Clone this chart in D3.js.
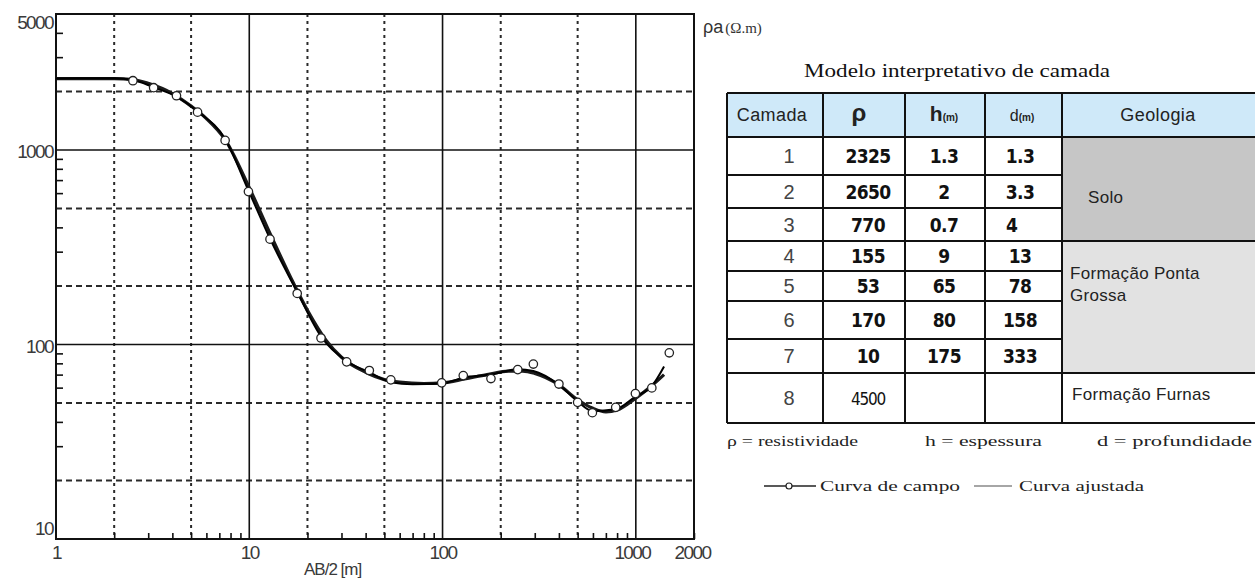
<!DOCTYPE html>
<html lang="pt">
  <head>
    <meta charset="utf-8" />
    <title>Curva de resistividade aparente</title>
    <script src="https://d3js.org/d3.v7.min.js"></script>
    <style>
      body { margin: 0; background: #fff; }
      text { font-family: "Liberation Sans", Arial, sans-serif; }
      .serif { font-family: "Liberation Serif", "Times New Roman", serif; }
      .narrow { font-family: "Liberation Sans Narrow", "DejaVu Sans Condensed", "DejaVu Sans", sans-serif; font-stretch: condensed; }
    </style>
  </head>
  <body>
    <script>

    // ---- data ----
    var xTicks = [1, 10, 100, 1000, 2000];
    var yTicks = [10, 100, 1000, 5000];

    // field measurements (circles)
    var campoAB  = [2.5, 3.2, 4.2, 5.4, 7.5, 9.9, 12.8, 17.7, 23.5, 31.9, 41.8, 54, 99, 128, 178, 245, 295, 400, 500, 596, 787, 995, 1210, 1490];
    var campoRho = [2270, 2090, 1900, 1565, 1120, 611, 348, 183, 108, 81.4, 73.5, 65.8, 63.5, 69.2, 66.8, 74.3, 79.3, 62.6, 50.4, 44.6, 47.5, 55.9, 59.8, 90.6];

    // field curve as drawn (line through the points)
    var linhaAB  = [1, 1.5, 2, 2.5, 3.2, 4.2, 5.4, 7.5, 9.9, 12.8, 17.7, 23.5, 31.9, 41.8, 54, 70, 99, 128, 178, 245, 295, 400, 500, 596, 787, 995, 1210, 1400];
    var linhaRho = [2330, 2335, 2335, 2290, 2100, 1880, 1580, 1140, 620, 350, 186, 110, 82, 72, 64, 62.5, 63, 67.5, 70, 74.5, 73, 62, 51, 45.5, 46.5, 54, 61, 77];

    // fitted curve
    var ajustAB  = [1, 2, 2.5, 3, 4, 5, 6, 7.5, 10, 13, 17, 20, 25, 30, 40, 50, 60, 80, 100, 130, 170, 220, 260, 300, 400, 500, 600, 700, 800, 1000, 1200, 1400];
    var ajustRho = [2325, 2325, 2300, 2200, 1950, 1680, 1450, 1130, 640, 360, 205, 150, 105, 86, 72, 66, 64, 63, 63.5, 66.5, 70, 73, 73, 71, 62, 52, 47, 45, 46, 53, 61, 70];

    // interpreted layer model
    var camadas      = ["1", "2", "3", "4", "5", "6", "7", "8"];
    var resistiv     = ["2325", "2650", "770", "155", "53", "170", "10", "4500"];
    var espessura    = ["1.3", "2", "0.7", "9", "65", "80", "175", ""];
    var profundidade = ["1.3", "3.3", "4", "13", "78", "158", "333", ""];
    var geologia     = [["Solo"], ["Formação Ponta", "Grossa"], ["Formação Furnas"]];
    var geoRows      = [[0, 2], [3, 6], [7, 7]];

    // ---- layout ----
    var W = 1255, H = 578;
    var plot = {left: 56, right: 694, top: 14, bottom: 539};

    var svg = d3.select("body").append("svg")
      .attr("width", W)
      .attr("height", H);

    var x = d3.scaleLog().domain([1, 2000]).range([plot.left, plot.right]);
    var y = d3.scaleLog().domain([10, 5000]).range([plot.bottom, plot.top]);

    // grid
    var gridSolidX = [10, 100, 1000], gridDotX = [2, 5, 20, 50, 200, 500];
    var gridSolidY = [100, 1000], gridDashY = [20, 50, 200, 500, 2000];

    svg.selectAll(".gdx").data(gridDotX).join("line")
      .attr("x1", d => x(d)).attr("x2", d => x(d))
      .attr("y1", plot.top).attr("y2", plot.bottom)
      .attr("stroke", "#2a2a2a").attr("stroke-width", 2).attr("stroke-dasharray", "3,4");

    svg.selectAll(".gdy").data(gridDashY).join("line")
      .attr("x1", plot.left).attr("x2", plot.right)
      .attr("y1", d => y(d)).attr("y2", d => y(d))
      .attr("stroke", "#2a2a2a").attr("stroke-width", 2).attr("stroke-dasharray", "6,4");

    svg.selectAll(".gsx").data(gridSolidX).join("line")
      .attr("x1", d => x(d)).attr("x2", d => x(d))
      .attr("y1", plot.top).attr("y2", plot.bottom)
      .attr("stroke", "#111").attr("stroke-width", 1.6);

    svg.selectAll(".gsy").data(gridSolidY).join("line")
      .attr("x1", plot.left).attr("x2", plot.right)
      .attr("y1", d => y(d)).attr("y2", d => y(d))
      .attr("stroke", "#111").attr("stroke-width", 1.6);

    // frame
    svg.append("rect")
      .attr("x", plot.left).attr("y", plot.top)
      .attr("width", plot.right - plot.left).attr("height", plot.bottom - plot.top)
      .attr("fill", "none").attr("stroke", "#111").attr("stroke-width", 2);

    // minor ticks
    var minorX = [];
    [1, 10, 100].forEach(function (d) { for (var m = 2; m <= 9; m++) minorX.push(m * d); });
    minorX.push(2000);
    var minorY = [];
    [10, 100, 1000].forEach(function (d) { [3, 4, 6, 7, 8, 9].forEach(function (m) { if (m * d < 5000) minorY.push(m * d); }); });

    svg.append("g")
      .attr("transform", `translate(0,${plot.bottom})`)
      .call(d3.axisBottom(x).tickValues(minorX).tickSize(-6).tickFormat(""))
      .call(g => g.select(".domain").remove())
      .selectAll("line").attr("stroke", "#111").attr("stroke-width", 1.6);

    svg.append("g")
      .attr("transform", `translate(${plot.left},0)`)
      .call(d3.axisLeft(y).tickValues(minorY).tickSize(-7).tickFormat(""))
      .call(g => g.select(".domain").remove())
      .selectAll("line").attr("stroke", "#111").attr("stroke-width", 1.6);

    // major tick labels
    var xAxis = svg.append("g")
      .attr("transform", `translate(0,${plot.bottom})`)
      .call(d3.axisBottom(x).tickValues(xTicks).tickSize(0).tickPadding(7).tickFormat(d3.format("d")));
    xAxis.select(".domain").remove();
    xAxis.selectAll("text")
      .attr("font-size", 19).attr("fill", "#3a3a3a").attr("letter-spacing", "-1.6")
      .attr("font-family", "Liberation Sans, sans-serif")
      .attr("dx", d => d === 1000 ? -4 : d === 2000 ? -2 : 0);

    var yAxis = svg.append("g")
      .attr("transform", `translate(${plot.left - 3},0)`)
      .call(d3.axisLeft(y).tickValues(yTicks).tickSize(0).tickPadding(0).tickFormat(d3.format("d")));
    yAxis.select(".domain").remove();
    yAxis.selectAll("text")
      .attr("font-size", 19).attr("fill", "#3a3a3a").attr("letter-spacing", "-1.6")
      .attr("font-family", "Liberation Sans, sans-serif")
      .attr("dy", d => d === 5000 ? "0.75em" : d === 10 ? "-0.25em" : "0.4em");

    svg.append("text")
      .attr("x", 304).attr("y", 575)
      .attr("font-size", 17).attr("fill", "#3a3a3a").attr("letter-spacing", "-1")
      .text("AB/2 [m]");

    var lab = svg.append("text").attr("x", 703).attr("y", 33).attr("fill", "#333");
    lab.append("tspan").attr("font-size", 18).text("ρa");
    lab.append("tspan").attr("class", "serif").attr("font-size", 15).attr("dx", 2).text("(Ω.m)");

    // curves
    var lineFn = function (xs, ys) {
      return d3.line().x((d, i) => x(xs[i])).y((d, i) => y(ys[i])).curve(d3.curveMonotoneX)(xs);
    };

    svg.append("path")
      .attr("d", lineFn(ajustAB, ajustRho))
      .attr("fill", "none").attr("stroke", "#1a1a1a").attr("stroke-width", 3.2);

    svg.append("path")
      .attr("d", lineFn(linhaAB, linhaRho))
      .attr("fill", "none").attr("stroke", "#000").attr("stroke-width", 2);

    svg.selectAll(".pt").data(campoAB).join("circle")
      .attr("cx", d => x(d))
      .attr("cy", (d, i) => y(campoRho[i]))
      .attr("r", 4.2)
      .attr("fill", "#fff").attr("stroke", "#222").attr("stroke-width", 1.3);

    // ---- table ----
    svg.append("text")
      .attr("class", "serif")
      .attr("x", 957).attr("y", 77)
      .attr("text-anchor", "middle")
      .attr("font-size", 19).attr("fill", "#111")
      .attr("textLength", 306).attr("lengthAdjust", "spacingAndGlyphs")
      .text("Modelo interpretativo de camada");

    var colX = [727, 823, 905, 985, 1062, 1262];
    var rowY = [93, 137, 175, 208, 241, 271, 301, 339, 373, 423];

    // header background
    svg.append("rect")
      .attr("x", colX[0]).attr("y", rowY[0])
      .attr("width", colX[5] - colX[0]).attr("height", rowY[1] - rowY[0])
      .attr("fill", "#cfe9f9");

    // geology cells
    var geoFill = ["#c6c6c6", "#e2e2e2", "#ffffff"];
    svg.selectAll(".geo").data(geoRows).join("rect")
      .attr("x", colX[4]).attr("y", d => rowY[d[0] + 1])
      .attr("width", colX[5] - colX[4])
      .attr("height", d => rowY[d[1] + 2] - rowY[d[0] + 1])
      .attr("fill", (d, i) => geoFill[i]);

    // grid lines of the table
    var tbl = svg.append("g").attr("stroke", "#111").attr("stroke-width", 2);
    colX.slice(0, 5).forEach(function (cx) {
      tbl.append("line").attr("x1", cx).attr("x2", cx).attr("y1", rowY[0]).attr("y2", rowY[9]);
    });
    rowY.forEach(function (ry, i) {
      var full = i <= 1 || i === 4 || i === 8 || i === 9;
      tbl.append("line").attr("x1", colX[0]).attr("x2", full ? W : colX[4]).attr("y1", ry).attr("y2", ry);
    });

    // header texts
    svg.append("text").attr("x", 772).attr("y", 121).attr("text-anchor", "middle")
      .attr("font-size", 18).attr("fill", "#222").attr("letter-spacing", "0.4").text("Camada");
    svg.append("text").attr("x", 859).attr("y", 121).attr("text-anchor", "middle")
      .attr("font-size", 24).attr("font-weight", "bold").attr("fill", "#222").text("ρ");
    var hh = svg.append("text").attr("x", 944).attr("y", 121).attr("text-anchor", "middle").attr("fill", "#222");
    hh.append("tspan").attr("font-size", 21).attr("font-weight", "bold").text("h");
    hh.append("tspan").attr("font-size", 10).attr("font-weight", "bold").text("(m)");
    var dd = svg.append("text").attr("x", 1022).attr("y", 121).attr("text-anchor", "middle").attr("fill", "#222");
    dd.append("tspan").attr("font-size", 16).text("d");
    dd.append("tspan").attr("font-size", 10).attr("font-weight", "bold").text("(m)");
    svg.append("text").attr("x", 1158).attr("y", 121).attr("text-anchor", "middle")
      .attr("font-size", 18).attr("fill", "#222").attr("letter-spacing", "0.4").text("Geologia");

    var rowMid = function (i) { return (rowY[i + 1] + rowY[i + 2]) / 2; };

    svg.selectAll(".cam").data(camadas).join("text")
      .attr("x", 789).attr("y", (d, i) => rowMid(i) + 7)
      .attr("text-anchor", "middle")
      .attr("font-size", 20).attr("font-weight", 300).attr("fill", "#444")
      .attr("font-family", "DejaVu Sans, sans-serif")
      .text(d => d);

    svg.selectAll(".rho").data(resistiv).join("text")
      .attr("class", "narrow")
      .attr("x", 868).attr("y", (d, i) => rowMid(i) + 7)
      .attr("text-anchor", "middle")
      .attr("font-size", (d, i) => i === 7 ? 17 : 19)
      .attr("font-weight", (d, i) => i === 7 ? "normal" : "bold")
      .attr("letter-spacing", (d, i) => i === 7 ? "-1.2" : "-0.6")
      .attr("fill", "#111")
      .text(d => d);

    svg.selectAll(".esp").data(espessura).join("text")
      .attr("class", "narrow")
      .attr("x", 944).attr("y", (d, i) => rowMid(i) + 7)
      .attr("text-anchor", "middle")
      .attr("font-size", 19).attr("font-weight", "bold").attr("fill", "#111").attr("letter-spacing", "-0.6")
      .text(d => d);

    svg.selectAll(".prof").data(profundidade).join("text")
      .attr("class", "narrow")
      .attr("x", (d, i) => i === 2 ? 1006 : 1020).attr("y", (d, i) => rowMid(i) + 7)
      .attr("text-anchor", (d, i) => i === 2 ? "start" : "middle")
      .attr("font-size", 19).attr("font-weight", "bold").attr("fill", "#111").attr("letter-spacing", "-0.6")
      .text(d => d);

    // geology labels
    var geoPos = [[1088, [203]], [1070, [279, 301]], [1072, [400]]];
    geologia.forEach(function (lines, g) {
      lines.forEach(function (t, k) {
        svg.append("text")
          .attr("x", geoPos[g][0]).attr("y", geoPos[g][1][k])
          .attr("font-size", 17).attr("fill", "#222").attr("letter-spacing", "0.3")
          .text(t);
      });
    });

    // notes and legend
    var notes = [["ρ = resistividade", 727, 131], ["h = espessura", 925, 117], ["d = profundidade", 1097, 155]];
    notes.forEach(function (n) {
      svg.append("text").attr("class", "serif")
        .attr("x", n[1]).attr("y", 446)
        .attr("font-size", 14).attr("fill", "#222")
        .attr("textLength", n[2]).attr("lengthAdjust", "spacingAndGlyphs")
        .text(n[0]);
    });

    svg.append("line").attr("x1", 764).attr("x2", 816).attr("y1", 486).attr("y2", 486)
      .attr("stroke", "#222").attr("stroke-width", 1.3);
    svg.append("circle").attr("cx", 789).attr("cy", 486).attr("r", 3)
      .attr("fill", "#fff").attr("stroke", "#222").attr("stroke-width", 1.2);
    svg.append("text").attr("class", "serif")
      .attr("x", 820).attr("y", 491).attr("font-size", 14).attr("fill", "#222")
      .attr("textLength", 140).attr("lengthAdjust", "spacingAndGlyphs")
      .text("Curva  de campo");
    svg.append("line").attr("x1", 974).attr("x2", 1012).attr("y1", 486).attr("y2", 486)
      .attr("stroke", "#888").attr("stroke-width", 1.3);
    svg.append("text").attr("class", "serif")
      .attr("x", 1019).attr("y", 491).attr("font-size", 14).attr("fill", "#222")
      .attr("textLength", 125).attr("lengthAdjust", "spacingAndGlyphs")
      .text("Curva ajustada");

    </script>
  </body>
</html>
